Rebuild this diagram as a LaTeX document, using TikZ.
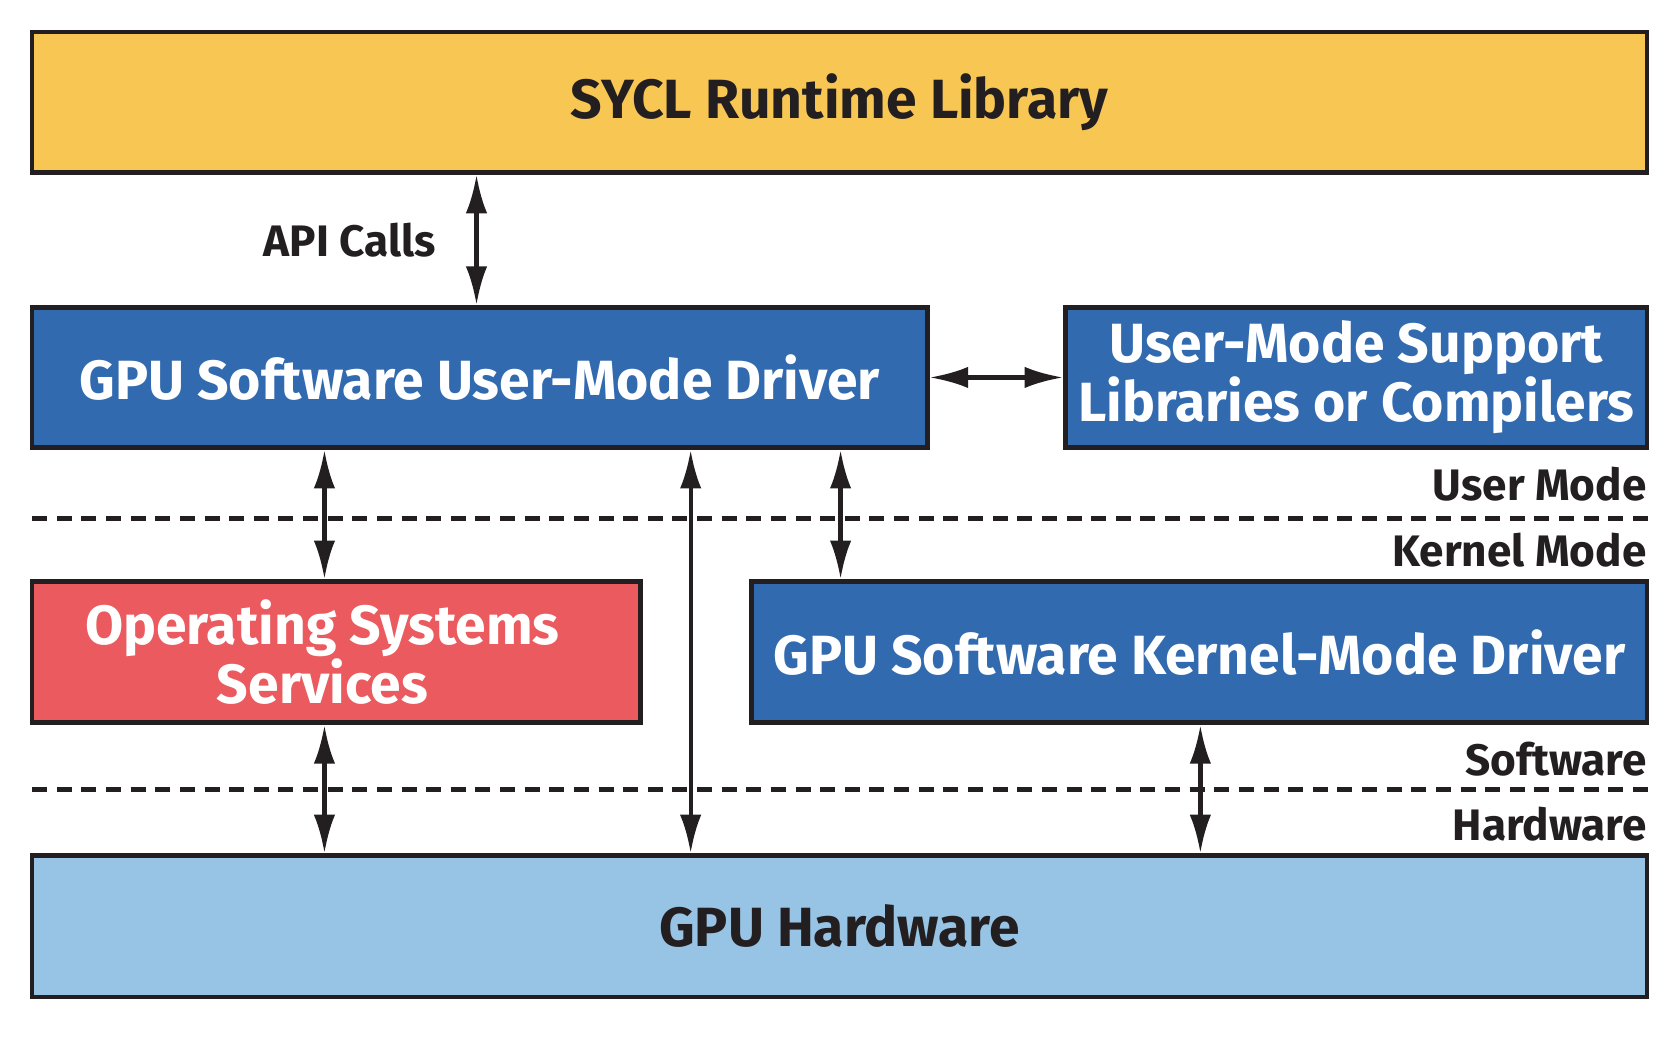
\documentclass[tikz,border=0pt]{standalone}
\usepackage{fontspec}
\setmainfont{Fira Sans}
\usetikzlibrary{arrows.meta}

\definecolor{syclyellow}{HTML}{F7C653}
\definecolor{drvblue}{HTML}{326AAF}
\definecolor{osred}{HTML}{EA5A5E}
\definecolor{hwblue}{HTML}{97C3E5}
\definecolor{inkdark}{HTML}{231F20}

\tikzset{
  layer/.style = {draw = inkdark, line width = 2.2pt, rectangle, align = center,
                  font = \fontsize{25.8}{25.5}\selectfont\bfseries, inner sep = 0pt},
  darktext/.style = {text = inkdark},
  lighttext/.style = {text = white},
  modelabel/.style = {text = inkdark, font = \fontsize{20.6}{22}\selectfont\bfseries, inner sep = 0pt},
  conn/.style = {draw = inkdark, line width = 2pt, {Latex[length=18pt,width=10pt]}-{Latex[length=18pt,width=10pt]}},
  divider/.style = {draw = inkdark, line width = 2.2pt, dash pattern = on 7pt off 4.5pt}
}

\begin{document}
\begin{tikzpicture}[x = 0.5pt, y = -0.5pt]
    \useasboundingbox (0,0) rectangle (1568,973);

    \node[layer, darktext, fill = syclyellow, minimum width = 754pt, minimum height = 65.5pt](sycl) at (784,95.5) {SYCL Runtime Library};
    \node[layer, lighttext, fill = drvblue, minimum width = 418pt, minimum height = 65.5pt](userDriver) at (448,352.5) {GPU Software User-Mode Driver};
    \node[layer, lighttext, fill = drvblue, minimum width = 271.5pt, minimum height = 65.5pt](supportLibs) at (1266.5,352.5) {User-Mode Support\\Libraries or Compilers};
    \node[layer, lighttext, fill = osred, minimum width = 284pt, minimum height = 66pt](osServices) at (314,609) {Operating Systems\hspace*{13pt}\\Services\hspace*{13pt}};
    \node[layer, lighttext, fill = drvblue, minimum width = 418pt, minimum height = 66pt](kernelDriver) at (1120,609) {GPU Software Kernel-Mode Driver};
    \node[layer, darktext, fill = hwblue, minimum width = 754pt, minimum height = 66pt](gpuHardware) at (784,865) {GPU Hardware};

    % mode boundaries
    \coordinate (userLeft) at (30,484);
    \coordinate (userRight) at (1540,484);
    \coordinate (hwLeft) at (30,737);
    \coordinate (hwRight) at (1540,737);
    \draw[divider] (userLeft) -- (userRight);
    \draw[divider] (hwLeft) -- (hwRight);

    \node[modelabel, anchor = east](userMode) at (1538,452) {User Mode};
    \node[modelabel, anchor = east](kernelMode) at (1538,514) {Kernel Mode};
    \node[modelabel, anchor = east](software) at (1538,709) {Software};
    \node[modelabel, anchor = east](hardware) at (1538,770) {Hardware};

    % arrow columns
    \coordinate (apiCol) at (445,0);
    \coordinate (osCol) at (303,0);
    \coordinate (directCol) at (645,0);
    \coordinate (kmdCol) at (785,0);
    \coordinate (hwCol) at (1121,0);

    \draw[conn] (sycl.south -| apiCol) -- node[modelabel, left = 18pt](apiCalls){API Calls} (userDriver.north -| apiCol);
    \draw[conn] (userDriver.east) -- (supportLibs.west);
    \draw[conn] (userDriver.south -| osCol) -- (osServices.north -| osCol);
    \draw[conn] (userDriver.south -| kmdCol) -- (kernelDriver.north -| kmdCol);
    \draw[conn] (userDriver.south -| directCol) -- (gpuHardware.north -| directCol);
    \draw[conn] (osServices.south -| osCol) -- (gpuHardware.north -| osCol);
    \draw[conn] (kernelDriver.south -| hwCol) -- (gpuHardware.north -| hwCol);
\end{tikzpicture}
\end{document}
